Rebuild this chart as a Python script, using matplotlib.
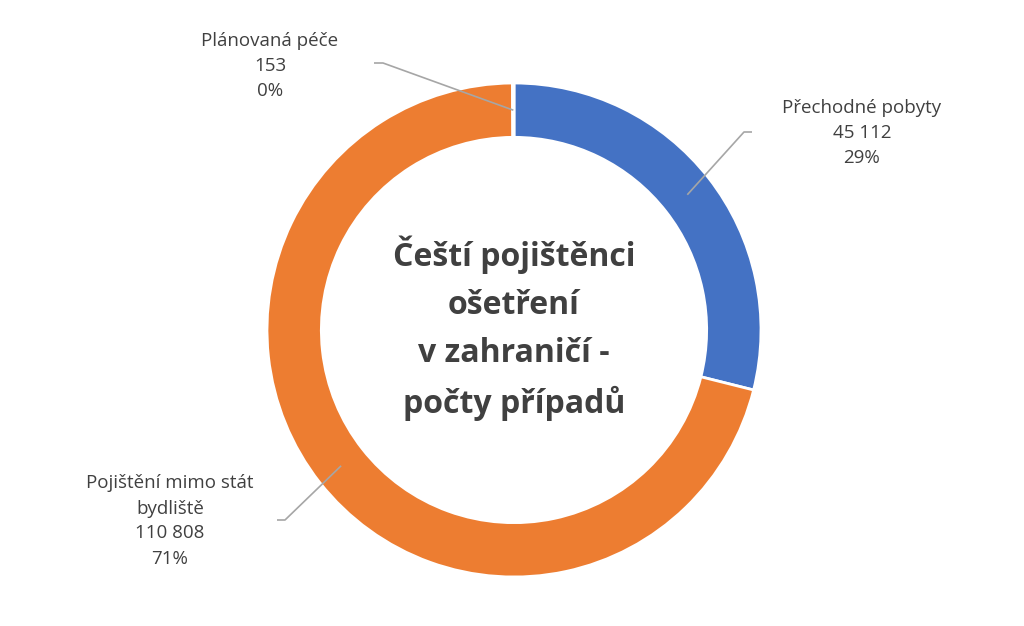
import matplotlib.pyplot as plt
import numpy as np

labels = ['Přechodné pobyty', 'Pojištění mimo stát\nbydliště', 'Plánovaná péče']
values = [45112, 110808, 153]
value_text = ['45 112', '110 808', '153']
colors = ['#4472C4', '#ED7D31', '#A5A5A5']
title = 'Čeští pojištěnci\nošetření\nv zahraničí -\npočty případů'

plt.rcParams['font.family'] = ['Open Sans', 'DejaVu Sans']

fig = plt.figure(figsize=(10.24, 6.26), dpi=100)
ax = fig.add_axes([0, 0, 1, 1])

# pixel -> data (center at 514,330, outer radius 247 px)
cx, cy, R = 514, 330, 247
def px(x, y):
    return (x - cx) / R, (cy - y) / R

wedges, _ = ax.pie(values, colors=colors, startangle=90, counterclock=False,
                   radius=1.0, wedgeprops=dict(width=0.22, edgecolor='white', linewidth=2))

ax.set_aspect('equal')
x0, y0 = px(0, 626)
x1, y1 = px(1024, 0)
ax.set_xlim(x0, x1)
ax.set_ylim(y0, y1)
ax.axis('off')

total = sum(values)
pcts = [f'{round(v / total * 100)}%' for v in values]

# text centre, elbow point, side of text
label_pos = [(862, 133), (170, 521), (270, 66)]
elbows = [((744, 132), (752, 132)), ((285, 520), (277, 520)), ((383, 63), (374, 63))]

for w, lab, vt, pc, tp, (e1, e2) in zip(wedges, labels, value_text, pcts, label_pos, elbows):
    ang = np.deg2rad((w.theta1 + w.theta2) / 2)
    ax_, ay_ = 0.89 * np.cos(ang), 0.89 * np.sin(ang)
    ex1, ey1 = px(*e1)
    ex2, ey2 = px(*e2)
    ax.plot([ax_, ex1, ex2], [ay_, ey1, ey2], color='#A6A6A6', lw=1.2,
            solid_capstyle='butt')
    tx, ty = px(*tp)
    ax.text(tx, ty, f'{lab}\n{vt}\n{pc}', ha='center', va='center',
            fontsize=13.5, color='#404040', linespacing=1.5)

tx, ty = px(514, 328)
ax.text(tx, ty, title, ha='center', va='center', fontsize=23,
        fontweight='bold', color='#404040', linespacing=1.6)

fig.savefig('out.png', dpi=100)
